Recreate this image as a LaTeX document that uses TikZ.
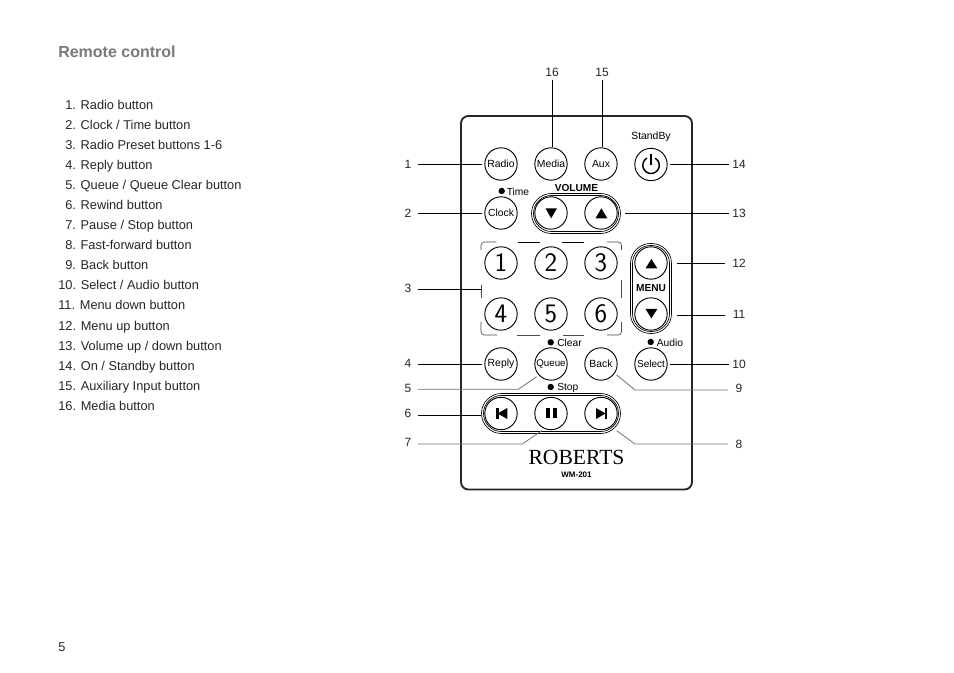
\documentclass[tikz,border=0pt]{standalone}
\usepackage{fontspec}
\setmainfont{Liberation Sans}
\newfontfamily\robfont{Liberation Serif}
\tikzset{
 x=0.75pt,y=-0.75pt,
 btn/.style={circle,draw=black,line width=0.7pt,minimum size=24.3pt,inner sep=0pt,font=\fontsize{7.8}{9}\selectfont},
 numbtn/.style={btn,font=\sffamily\fontsize{20}{22}\selectfont},
 lbl/.style={font=\fontsize{9}{11}\selectfont,text=black!85,inner sep=0pt},
 item/.style={font=\fontsize{9.6}{11}\selectfont,text=black!85,inner sep=0pt,anchor=base west},
 lead/.style={line width=0.6pt,black},
 leadg/.style={line width=0.6pt,black!55},
 small/.style={font=\fontsize{7.7}{9}\selectfont,inner sep=0pt,anchor=west},
 dotm/.style={circle,fill=black,inner sep=0pt,minimum size=4.8pt},
 pill/.style={draw=black,line width=0.5pt},
 brk/.style={line width=0.5pt,black!70},
 tri/.style={fill=black},
}
\begin{document}
\begin{tikzpicture}
\useasboundingbox (0,0) rectangle (954,673);
\fill[white] (0,0) rectangle (954,673);
\node[anchor=base west,inner sep=0pt,text=black!52,font=\fontsize{12}{14}\bfseries\selectfont] (title) at (58,58) {Remote control};
\node[item] (i1) at (65,110) {1. Radio button};
\node[item] (i2) at (65,130) {2. Clock / Time button};
\node[item] (i3) at (65,150) {3. Radio Preset buttons 1-6};
\node[item] (i4) at (65,170) {4. Reply button};
\node[item] (i5) at (65,190) {5. Queue / Queue Clear button};
\node[item] (i6) at (65,210) {6. Rewind button};
\node[item] (i7) at (65,230) {7. Pause / Stop button};
\node[item] (i8) at (65,250) {8. Fast-forward button};
\node[item] (i9) at (65,270) {9. Back button};
\node[item] (i10) at (58,290) {10. Select / Audio button};
\node[item] (i11) at (58,310) {11. Menu down button};
\node[item] (i12) at (58,331) {12. Menu up button};
\node[item] (i13) at (58,351) {13. Volume up / down button};
\node[item] (i14) at (58,371) {14. On / Standby button};
\node[item] (i15) at (58,391) {15. Auxiliary Input button};
\node[item] (i16) at (58,411) {16. Media button};
\node[item] (page) at (58,652) {5};
% body
\draw[line width=1.4pt,black!85,rounded corners=5.5pt] (461,116) rectangle (692,489.5);
% pills
\draw[pill,rounded corners=15pt] (531.5,193.5) rectangle (620.5,233.5);
\draw[pill,rounded corners=13.5pt] (533.5,195.5) rectangle (618.5,231.5);
\draw[pill,rounded corners=15pt] (630.5,243.5) rectangle (671.5,333.5);
\draw[pill,rounded corners=13.5pt] (632.5,245.5) rectangle (669.5,331.5);
\draw[pill,rounded corners=15pt] (481.5,393.5) rectangle (620.5,433.5);
\draw[pill,rounded corners=13.5pt] (483.5,395.5) rectangle (618.5,431.5);
% preset bracket
\draw[brk,rounded corners=2.5pt] (496,242) -- (481,242) -- (481,250);
\draw[brk] (481,285) -- (481,298);
\draw[brk,rounded corners=2.5pt] (481,322) -- (481,335) -- (497,335);
\draw[line width=0.6pt,black] (518,242) -- (540,242) (562,242) -- (584,242);
\draw[brk] (517,335) -- (540,335) (563,335) -- (584,335);
\draw[brk,rounded corners=2.5pt] (607,242) -- (621.5,242) -- (621.5,250);
\draw[brk] (621.5,280) -- (621.5,298);
\draw[brk,rounded corners=2.5pt] (621.5,322) -- (621.5,335) -- (607,335);
% buttons
\node[btn] (radio) at (501,164) {Radio};
\node[btn] (media) at (551,164) {Media};
\node[btn] (aux) at (601,164) {Aux};
\node[btn] (power) at (651,164.5) {};
\node[btn] (clock) at (501,213) {Clock};
\node[btn] (vdown) at (551,213) {};
\node[btn] (vup) at (601,213) {};
\node[numbtn] (n1) at (501,263) {1};
\node[numbtn] (n2) at (551,263) {2};
\node[numbtn] (n3) at (601,263) {3};
\node[numbtn] (n4) at (501,314) {4};
\node[numbtn] (n5) at (551,314) {5};
\node[numbtn] (n6) at (601,314) {6};
\node[btn] (mup) at (651,263) {};
\node[btn] (mdown) at (651,314) {};
\node[btn] (reply) at (501,364) {Reply};
\node[btn,font=\fontsize{7.3}{9}\selectfont] (queue) at (551,364) {Queue};
\node[btn] (back) at (601,364) {Back};
\node[btn,font=\fontsize{7.5}{9}\selectfont] (select) at (651,364) {Select};
\node[btn] (prev) at (501,413.5) {};
\node[btn] (pause) at (551,413.5) {};
\node[btn] (next) at (601,413.5) {};
% icons
\draw[line width=1.1pt] (646.9,158.1) arc[start angle=120,end angle=420,radius=6.2pt];
\draw[line width=1.1pt] (651,154) -- (651,165);
\fill[tri] (545.5,208.3) -- (557,208.3) -- (551.2,218.3) -- cycle;
\fill[tri] (595.5,218.3) -- (607.3,218.3) -- (601.4,208.3) -- cycle;
\fill[tri] (645.5,268.3) -- (657.3,268.3) -- (651.4,259) -- cycle;
\fill[tri] (645.5,309) -- (657.3,309) -- (651.4,318.3) -- cycle;
\fill[tri] (496,408) rectangle (498.7,419);
\fill[tri] (507.3,408) -- (507.3,419) -- (497.5,413.5) -- cycle;
\fill[tri] (546,408.3) rectangle (549.5,418.5);
\fill[tri] (552.8,408.3) rectangle (556.5,418.5);
\fill[tri] (596,408) -- (596,419) -- (605.5,413.5) -- cycle;
\fill[tri] (604.5,408) rectangle (607.3,419);
% small text
\node[font=\fontsize{7.8}{9}\selectfont,inner sep=0pt] (standby) at (651,137) {StandBy};
\node[dotm] (dt) at (501.7,191) {};
\node[small] (time) at (506.5,192) {Time};
\node[font=\fontsize{7.6}{9}\bfseries\selectfont,inner sep=0pt] (volume) at (576.5,188) {VOLUME};
\node[font=\fontsize{7.6}{9}\bfseries\selectfont,inner sep=0pt] (menu) at (651,288.5) {MENU};
\node[dotm] (dc) at (550.7,342.3) {};
\node[small] (clear) at (557,342.5) {Clear};
\node[dotm] (da) at (650.7,342) {};
\node[small] (audio) at (656.5,342.5) {Audio};
\node[dotm] (ds) at (550.7,387) {};
\node[small] (stop) at (557,387.5) {Stop};
\node[font=\fontsize{16.2}{18}\selectfont\robfont,inner sep=0pt] (rob) at (576.5,457) {ROBERTS};
\node[font=\fontsize{6}{7}\bfseries\selectfont,inner sep=0pt] (wm) at (576.5,475) {WM-201};
% leader labels
\node[lbl] (l1) at (408,164) {1};
\node[lbl] (l2) at (408,213) {2};
\node[lbl] (l3) at (408,288) {3};
\node[lbl] (l4) at (408,363.5) {4};
\node[lbl] (l5) at (408,388.5) {5};
\node[lbl] (l6) at (408,413.5) {6};
\node[lbl] (l7) at (408,442.5) {7};
\node[lbl] (l8) at (739,444.5) {8};
\node[lbl] (l9) at (739,388.5) {9};
\node[lbl] (l10) at (739,364) {10};
\node[lbl] (l11) at (739,314) {11};
\node[lbl] (l12) at (739,263) {12};
\node[lbl] (l13) at (739,213) {13};
\node[lbl] (l14) at (739,164) {14};
\node[lbl] (l15) at (602,72) {15};
\node[lbl] (l16) at (552,72) {16};
% leader ends
\coordinate (a1) at (418,164);
\coordinate (a2) at (418,213);
\coordinate (a3) at (418,289);
\coordinate (a4) at (418,364);
\coordinate (a5) at (418,389.3);
\coordinate (a6) at (418,415);
\coordinate (a7) at (418,444);
\coordinate (a8) at (728,444);
\coordinate (a9) at (728,390);
\coordinate (a10) at (729,364);
\coordinate (a11) at (725,315);
\coordinate (a12) at (725,263);
\coordinate (a13) at (729,213);
\coordinate (a14) at (729,164.5);
\coordinate (a15) at (602.3,80);
\coordinate (a16) at (552.5,80);
\coordinate (b3) at (481,289);
\coordinate (b6) at (481,415);
\coordinate (b11) at (677,315);
\coordinate (b12) at (677,263);
\coordinate (b13) at (625,213);
\coordinate (e5) at (536.7,376.7);
\coordinate (e7) at (541.7,430.7);
\coordinate (e8) at (616.7,430.7);
\coordinate (e9) at (616.7,375);
\draw[lead,shorten >=1.5pt] (a1) -- (radio.west);
\draw[lead,shorten >=1.5pt] (a2) -- (clock.west);
\draw[lead] (a3) -- (b3);
\draw[lead,shorten >=1.5pt] (a4) -- (reply.west);
\draw[leadg] (a5) -- (518.3,389.3) -- (e5);
\draw[lead] (a6) -- (b6);
\draw[leadg] (a7) -- (522.3,444) -- (e7);
\draw[leadg] (a8) -- (635,444) -- (e8);
\draw[leadg] (a9) -- (635,390) -- (e9);
\draw[lead,shorten >=2pt] (a10) -- (select.east);
\draw[lead] (a11) -- (b11);
\draw[lead] (a12) -- (b12);
\draw[lead] (a13) -- (b13);
\draw[lead,shorten >=2pt] (a14) -- (power.east);
\draw[lead] (a15) -- (a15 |- aux.north);
\draw[lead] (a16) -- (a16 |- media.north);
\end{tikzpicture}
\end{document}
